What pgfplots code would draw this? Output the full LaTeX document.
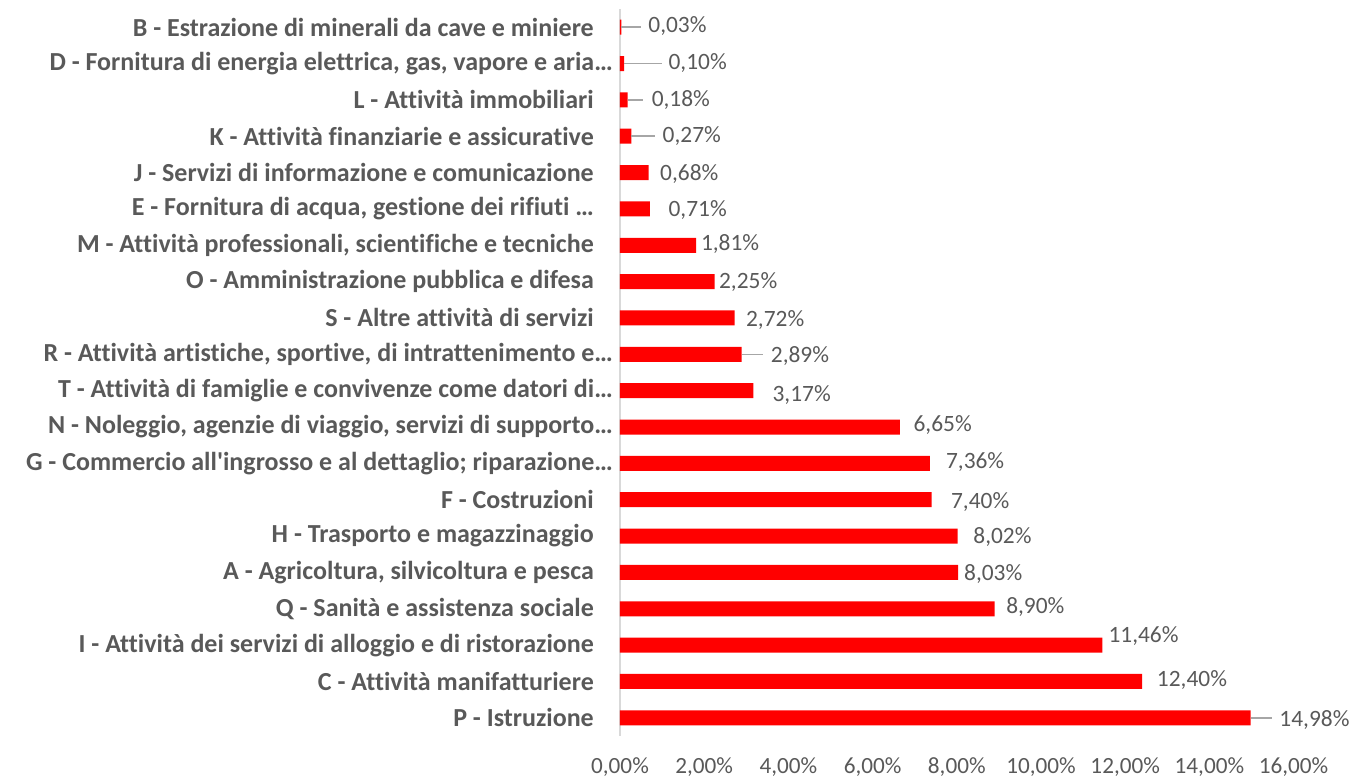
\documentclass[border=0pt]{standalone}
\usepackage{fontspec}
\setmainfont{Carlito}[Ligatures=NoCommon]
\newfontfamily\lbl{Carlito}[Ligatures=NoCommon]
\usepackage{pgfplots}
\pgfplotsset{compat=1.18}
\definecolor{txt}{HTML}{595959}
\definecolor{lead}{HTML}{A6A6A6}
\definecolor{axl}{HTML}{D9D9D9}
\newcommand{\elk}{\kern-19bp}
\begin{document}
\begin{tikzpicture}
\begin{axis}[
  name=ax, at={(0,0)}, anchor=south west,
  scale only axis, width=673.6bp, height=727bp,
  xmin=0, xmax=16, ymin=-0.5, ymax=19.5,
  clip=false,
  axis lines=left,
  x axis line style={draw=none},
  y axis line style={draw=axl, line width=1.5bp, -},
  major tick length=0pt,
  xtick={0,2,...,16},
  xticklabels={{0,00\%},{2,00\%},{4,00\%},{6,00\%},{8,00\%},{10,00\%},{12,00\%},{14,00\%},{16,00\%}},
  xticklabel style={font=\fontsize{23.2bp}{28bp}\selectfont, text=txt, anchor=base, inner sep=0pt, yshift=-38bp},
  ytick={0,...,19},
  yticklabels={
    {P - Istruzione},
    {C - Attività manifatturiere},
    {I - Attività dei servizi di alloggio e di ristorazione},
    {Q - Sanità e assistenza sociale},
    {A - Agricoltura, silvicoltura e pesca},
    {H - Trasporto e magazzinaggio},
    {F - Costruzioni},
    {G - Commercio all'ingrosso e al dettaglio; riparazione…\elk},
    {N - Noleggio, agenzie di viaggio, servizi di supporto…\elk},
    {T - Attività di famiglie e convivenze come datori di…\elk},
    {R - Attività artistiche, sportive, di intrattenimento e…\elk},
    {S - Altre attività di servizi},
    {O - Amministrazione pubblica e difesa},
    {M - Attività professionali, scientifiche e tecniche},
    {E - Fornitura di acqua, gestione dei rifiuti …},
    {J - Servizi di informazione e comunicazione},
    {K - Attività finanziarie e assicurative},
    {L - Attività immobiliari},
    {D - Fornitura di energia elettrica, gas, vapore e aria…\elk},
    {B - Estrazione di minerali da cave e miniere}},
  yticklabel style={font=\lbl\bfseries\fontsize{26bp}{30bp}\selectfont, text=txt, anchor=east, inner sep=0pt, xshift=-26bp},
]
\addplot[xbar, fill=red, draw=none, bar width=15bp] coordinates {
  (14.98,0) (12.40,1) (11.46,2) (8.90,3) (8.03,4) (8.02,5) (7.40,6) (7.36,7) (6.65,8) (3.17,9)
  (2.89,10) (2.72,11) (2.25,12) (1.81,13) (0.71,14) (0.68,15) (0.27,16) (0.18,17) (0.10,18) (0.03,19)};
% leader lines
\addplot[lead, line width=1.5bp, no marks] coordinates {(0.03,19) (0.49,19)};
\addplot[lead, line width=1.5bp, no marks] coordinates {(0.10,18) (0.99,18)};
\addplot[lead, line width=1.5bp, no marks] coordinates {(0.18,17) (0.55,17)};
\addplot[lead, line width=1.5bp, no marks] coordinates {(0.27,16) (0.83,16)};
\addplot[lead, line width=1.5bp, no marks] coordinates {(2.89,10) (3.39,10)};
\addplot[lead, line width=1.5bp, no marks] coordinates {(14.98,0) (15.48,0)};
% data labels
\addplot[draw=none, no marks, nodes near coords={\pgfplotspointmeta\%}, point meta=explicit symbolic,
  nodes near coords style={anchor=west, inner sep=0pt, text=txt, font=\fontsize{23.4bp}{28bp}\selectfont}]
  table[meta=lab] {
x y lab
15.66 -0.054 14,98
12.75 1.046 12,40
11.60 2.237 11,46
9.17 3.046 8,90
8.17 3.962 8,03
8.39 4.961 8,02
7.86 5.935 7,40
7.74 7.035 7,36
6.97 8.042 6,65
3.62 8.887 3,17
3.58 9.940 2,89
2.99 10.950 2,72
2.35 11.976 2,25
1.92 13.041 1,81
1.15 13.957 0,71
0.95 14.966 0,68
1.01 15.993 0,27
0.75 17.002 0,18
1.15 18.012 0,10
0.67 19.019 0,03
};
\end{axis}
\pgfresetboundingbox
\path[use as bounding box] (-620bp,-42bp) rectangle (733bp,736bp);
\end{tikzpicture}
\end{document}
